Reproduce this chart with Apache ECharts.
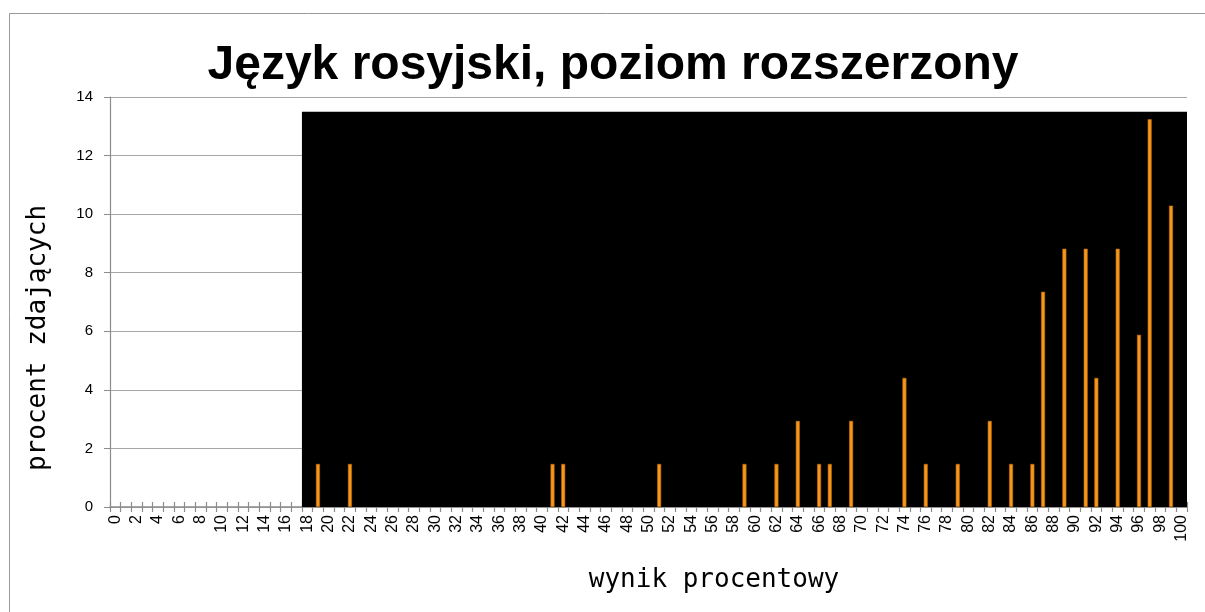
<!DOCTYPE html>
<html>
<head>
<meta charset="utf-8">
<script src="https://cdn.jsdelivr.net/npm/echarts@6/dist/echarts.min.js"></script>
<style>html,body{margin:0;padding:0;background:#fff}#c{width:1205px;height:612px}</style>
</head>
<body>
<div id="c"></div>
<script>
const titleText = 'Język rosyjski, poziom rozszerzony';
const xTitle = 'wynik procentowy';
const yTitle = 'procent zdających';
const categories = ['0','1','2','3','4','5','6','7','8','9','10','11','12','13','14','15','16','17','18','19','20','21','22','23','24','25','26','27','28','29','30','31','32','33','34','35','36','37','38','39','40','41','42','43','44','45','46','47','48','49','50','51','52','53','54','55','56','57','58','59','60','61','62','63','64','65','66','67','68','69','70','71','72','73','74','75','76','77','78','79','80','81','82','83','84','85','86','87','88','89','90','91','92','93','94','95','96','97','98','99','100'];
const scores   = ['19','22','41','42','51','59','62','64','66','67','69','74','76','79','82','84','86','87','89','91','92','94','96','97','99'];
const percents = [1.47,1.47,1.47,1.47,1.47,1.47,1.47,2.94,1.47,1.47,2.94,4.41,1.47,1.47,2.94,1.47,1.47,7.35,8.82,8.82,4.41,8.82,5.88,13.24,10.29];
const yTicks = [0,2,4,6,8,10,12,14];
const shadeFrom = '18', shadeTo = '100', shadeTop = 13.5;

const barData = categories.map(c => {
  const i = scores.indexOf(c);
  return i >= 0 ? percents[i] : '-';
});

const chart = echarts.init(document.getElementById('c'), null, {renderer: 'canvas'});
const gridCol = '#a6a6a6';
const axisCol = '#8c8c8c';
const monoFont = '26px "DejaVu Sans Mono", monospace';
chart.setOption({
  animation: false,
  backgroundColor: '#fff',
  textStyle: {fontFamily: 'Liberation Sans, Arial, sans-serif'},
  title: {
    text: titleText, left: 608, top: 37, textAlign: 'center',
    textStyle: {fontFamily: 'Liberation Sans, Arial, sans-serif', fontWeight: 'bold', fontSize: 48, color: '#000'}
  },
  grid: {left: 110, right: 18, top: 97, bottom: 105, containLabel: false},
  graphic: [
    {type: 'rect', shape: {x: 9.5, y: 13.5, width: 1300, height: 700}, style: {fill: 'none', stroke: '#999', lineWidth: 1}, z: -10, silent: true},
    {type: 'text', x: 714, y: 580, style: {text: xTitle, x: 0, y: 0, textAlign: 'center', textVerticalAlign: 'middle', font: monoFont, fill: '#000'}, silent: true},
    {type: 'text', rotation: Math.PI / 2, x: 38, y: 338, style: {text: yTitle, x: 0, y: 0, textAlign: 'center', textVerticalAlign: 'middle', font: monoFont, fill: '#000'}, silent: true}
  ],
  xAxis: [{
    type: 'category', data: categories, boundaryGap: true,
    axisLine: {show: true, lineStyle: {color: axisCol, width: 1.5}},
    axisTick: {show: true, interval: 0, length: 5, inside: false, lineStyle: {color: axisCol, width: 1.2}},
    axisLabel: {interval: 1, rotate: 90, fontSize: 16, color: '#000', margin: 8, fontFamily: 'Liberation Sans, Arial, sans-serif'},
    splitLine: {show: false}
  }, {
    type: 'category', data: categories, boundaryGap: true, position: 'bottom',
    axisLine: {show: false},
    axisTick: {show: true, interval: 0, length: 5, inside: true, lineStyle: {color: axisCol, width: 1.2}},
    axisLabel: {show: false},
    splitLine: {show: false}
  }],
  yAxis: {
    type: 'value', min: yTicks[0], max: yTicks[yTicks.length - 1], interval: 2,
    axisLine: {show: true, lineStyle: {color: axisCol, width: 1.2}},
    axisTick: {show: true, length: 6, lineStyle: {color: axisCol}},
    axisLabel: {fontSize: 15, color: '#000', margin: 17, fontFamily: 'Liberation Sans, Arial, sans-serif'},
    splitLine: {show: true, lineStyle: {color: gridCol, width: 1.2}}
  },
  series: [{
    type: 'bar', xAxisIndex: 0, data: [], z: 1, silent: true,
    markArea: {
      silent: true,
      itemStyle: {color: '#000', opacity: 1},
      data: [[{xAxis: shadeFrom, yAxis: 0}, {xAxis: shadeTo, yAxis: shadeTop}]]
    }
  }, {
    type: 'bar', xAxisIndex: 0, data: barData, barWidth: 4, z: 5, barGap: '-100%',
    itemStyle: {color: '#f7961c', borderColor: '#b86a08', borderWidth: 0.6}
  }]
});
</script>
</body>
</html>
